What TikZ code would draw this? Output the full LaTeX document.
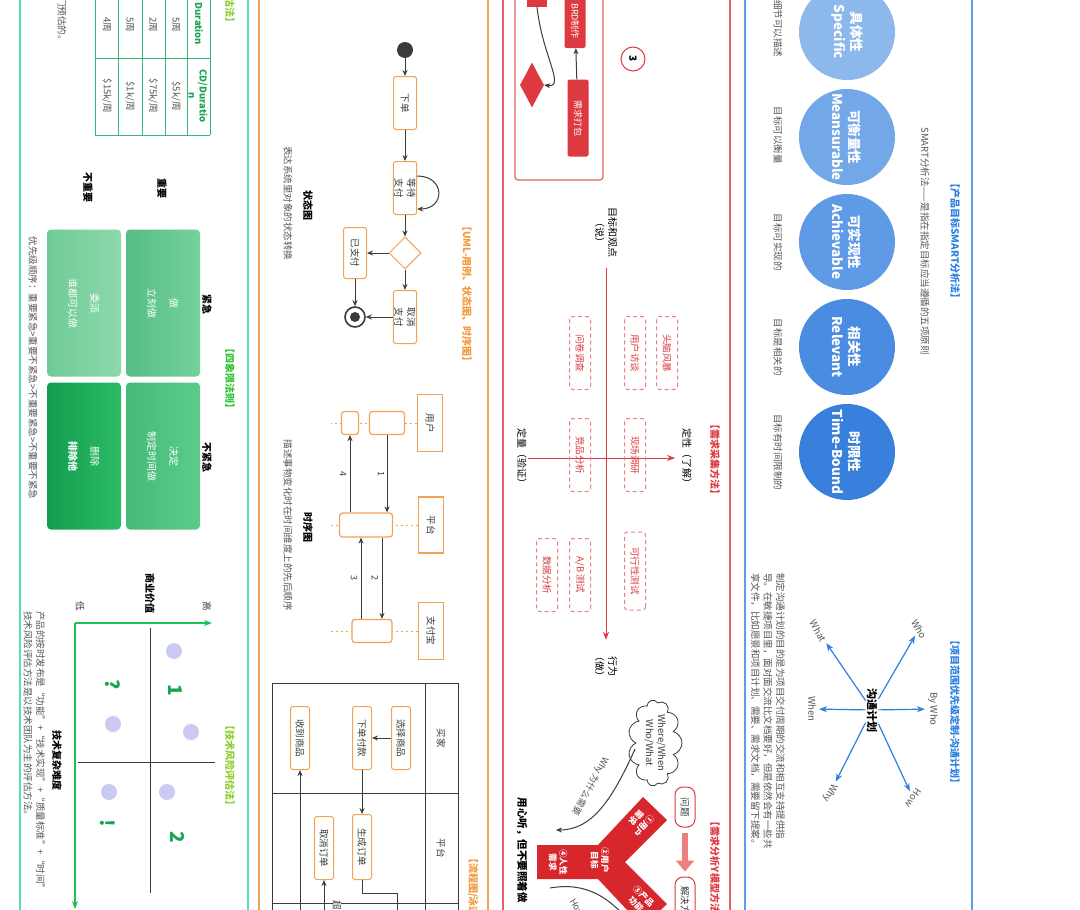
\documentclass[tikz,border=0pt]{standalone}
\usepackage{fontspec}
\setmainfont{Noto Sans CJK SC}
\usepackage{xcolor}
\definecolor{pmBleu}{HTML}{2E7FDF}
\definecolor{pmBleuCadre}{HTML}{5C9CE8}
\definecolor{pmBleuUn}{HTML}{8CB8EC}
\definecolor{pmBleuDeux}{HTML}{72A7E8}
\definecolor{pmBleuTrois}{HTML}{5E9AE5}
\definecolor{pmBleuQuatre}{HTML}{4A8CE1}
\definecolor{pmBleuCinq}{HTML}{3880DC}
\definecolor{pmRouge}{HTML}{DC3A40}
\definecolor{pmRougeCadre}{HTML}{E46262}
\definecolor{pmRougePale}{HTML}{EC8080}
\definecolor{pmRougeY}{HTML}{D7262C}
\definecolor{pmOrange}{HTML}{F2A256}
\definecolor{pmOrangeTitre}{HTML}{F29A3E}
\definecolor{pmVertCadre}{HTML}{55E0AC}
\definecolor{pmVertTitre}{HTML}{2EC435}
\definecolor{pmVertLime}{HTML}{8DCF2E}
\definecolor{pmVertTexte}{HTML}{18A552}
\definecolor{pmVertAxe}{HTML}{1FBF55}
\definecolor{pmVertTableau}{HTML}{33B874}
\definecolor{pmVertFaire}{HTML}{56BD84}
\definecolor{pmVertFaireClair}{HTML}{74D29B}
\definecolor{pmVertDeleguer}{HTML}{6FCB95}
\definecolor{pmVertDeleguerClair}{HTML}{8DD9AC}
\definecolor{pmVertDecider}{HTML}{45B978}
\definecolor{pmVertDeciderClair}{HTML}{5CCB8A}
\definecolor{pmVertSupprimer}{HTML}{129E4E}
\definecolor{pmVertSupprimerClair}{HTML}{2DBB66}
\definecolor{pmGris}{HTML}{555555}
\definecolor{pmTrait}{HTML}{3B3B3B}
\definecolor{pmLavande}{HTML}{CACAF3}
\usepackage{tikz}
\usetikzlibrary{arrows.meta, shapes.geometric, shapes.symbols}
\newcommand{\corps}[2]{\fontsize{#1}{#2}\selectfont}
\tikzset{
  %% ── Cadres ───────────────────────────────────────────────────────────
  %% One tall strip per topic; every strip runs past the top and bottom.
  cadre/.style        = {line width=1.2pt},
  cadreVert/.style    = {cadre, draw=pmVertCadre},
  cadreOrange/.style  = {cadre, draw=pmOrange},
  cadreRouge/.style   = {cadre, draw=pmRougeCadre},
  cadreBleu/.style    = {cadre, draw=pmBleuCadre},
  %%
  %% ── Texte ────────────────────────────────────────────────────────────
  %% The whole sheet is turned a quarter turn clockwise, so every text is;
  %% an extra rotate on a node adds to that quarter turn.
  texte/.style        = {rotate=-90, inner sep=1pt, align=center, text=pmGris,
                         font=\corps{9.5}{12.5}},
  legende/.style      = {texte, text=black, font=\corps{10}{13}\bfseries},
  legendeFine/.style  = {texte, text=black, font=\corps{10}{13}},
  titre/.style        = {texte, font=\corps{10}{12}\bfseries},
  titreBleu/.style    = {titre, text=pmBleu},
  titreRouge/.style   = {titre, text=pmRouge},
  titreOrange/.style  = {titre, text=pmOrangeTitre},
  titreVert/.style    = {titre, text=pmVertTitre},
  titreLime/.style    = {titre, text=pmVertLime},
  etiquetteSeq/.style = {texte, text=pmTrait, font=\corps{9}{10}},
  chiffreQuadrant/.style = {texte, text=pmVertTexte, font=\corps{19}{20}\bfseries},
  texteY/.style       = {inner sep=0pt, align=center, text=white,
                         font=\corps{8.5}{10.5}\bfseries},
  %%
  %% ── Boites ───────────────────────────────────────────────────────────
  bulleSmart/.style   = {circle, minimum size=96pt, inner sep=0pt, rotate=-90,
                         align=center, text=white, font=\corps{13.5}{17}\bfseries},
  boiteUml/.style     = {texte, draw=pmOrange, line width=1pt, rounded corners=2.5pt,
                         fill=white, text=pmTrait, minimum height=23pt},
  boiteEnTete/.style  = {texte, draw=pmOrange, line width=1.2pt, fill=white,
                         text=pmTrait, minimum height=25pt},
  boiteActivation/.style = {draw=pmOrange, line width=1.2pt, rounded corners=3pt,
                         fill=white, inner sep=0pt},
  losangeUml/.style   = {diamond, draw=pmOrange, line width=1pt, fill=white,
                         minimum width=32pt, minimum height=32pt, inner sep=0pt},
  pointDepart/.style  = {circle, fill=pmTrait, minimum size=16pt, inner sep=0pt},
  pointFin/.style     = {circle, draw=pmTrait, line width=1.6pt, fill=white,
                         minimum size=20pt, inner sep=0pt,
                         path picture={\fill[pmTrait] (path picture bounding box.center)
                         circle (5pt);}},
  boiteRougePleine/.style = {texte, fill=pmRouge, text=white, rounded corners=2pt,
                         minimum height=21pt, font=\corps{9}{11}},
  boiteTirets/.style  = {texte, draw=pmRougePale, line width=1pt,
                         dash pattern=on 4pt off 3pt, rounded corners=3pt,
                         text=pmRouge, minimum width=73pt, minimum height=21pt},
  boiteProbleme/.style = {texte, draw=pmRouge, line width=1pt, rounded corners=8pt,
                         fill=white, text=pmTrait, minimum height=20pt,
                         minimum width=40pt},
  cercleEtape/.style  = {circle, draw=pmRouge, line width=1pt, minimum size=24pt,
                         inner sep=0pt, rotate=-90, text=black,
                         font=\corps{10}{12}\bfseries},
  nuage/.style        = {cloud, cloud puffs=11, cloud ignores aspect, draw=pmTrait,
                         line width=0.8pt, rotate=-90, minimum width=86pt,
                         minimum height=54pt, inner sep=0pt, align=center,
                         text=pmTrait, font=\corps{9.5}{12}},
  caseQuadrant/.style = {texte, rounded corners=4pt, text=white, minimum width=147pt,
                         minimum height=74pt, font=\corps{10}{13}},
  %%
  %% ── Traits ───────────────────────────────────────────────────────────
  flecheNoire/.style  = {-{Stealth[length=6pt, width=5pt]}, draw=pmTrait,
                         line width=1pt},
  flecheBleue/.style  = {-{Stealth[length=8pt, width=6pt]}, draw=pmBleu,
                         line width=1.2pt},
  flecheRouge/.style  = {-{Stealth[length=8pt, width=6pt]}, draw=pmRouge,
                         line width=1pt},
  flecheVerte/.style  = {-{Stealth[length=8pt, width=6pt]}, draw=pmVertAxe,
                         line width=1.2pt},
  flecheEpaisse/.style = {-{Triangle[length=11pt, width=18pt]}, draw=pmRougePale,
                         line width=6pt},
  ligneVie/.style     = {draw=pmOrange, line width=1pt, dash pattern=on 2pt off 3pt},
  traitCouloir/.style = {draw=pmTrait, line width=1pt},
  traitTableau/.style = {draw=pmVertTableau, line width=0.8pt},
  traitCroix/.style   = {draw=pmTrait, line width=1pt},
}

\begin{document}
\begin{tikzpicture}[x=1pt, y=-1pt]

\useasboundingbox (0,0) rectangle (1080,910);
\fill[white] (0,0) rectangle (1080,910);
\clip (0,0) rectangle (1080,910);

%% strips
\draw[cadreVert]   (20,-10)  rectangle (248,920);
\draw[cadreOrange] (259,-10) rectangle (488,920);
\draw[cadreRouge]  (503,-10) rectangle (730,920);
\draw[cadreBleu]   (745,-10) rectangle (972,920);

%% SMART
\node[titreBleu] (titreSmart) at (955,241) {【产品目标SMART分析法】};
\node[texte] (sousSmart) at (925,241) {SMART分析法——是指在指定目标应当遵循的五项原则};

\node[bulleSmart, fill=pmBleuUn]     (specific)   at (847,32)  {具体性\\Specific};
\node[bulleSmart, fill=pmBleuDeux]   (measurable) at (847,137) {可衡量性\\Meansurable};
\node[bulleSmart, fill=pmBleuTrois]  (achievable) at (847,242) {可实现性\\Achievable};
\node[bulleSmart, fill=pmBleuQuatre] (relevant)   at (847,347) {相关性\\Relevant};
\node[bulleSmart, fill=pmBleuCinq]   (timeBound)  at (847,452) {时限性\\Time-Bound};

\node[texte] (descSpecific)   at (778,29)  {细节可以描述};
\node[texte] (descMeasurable) at (778,135) {目标可以衡量};
\node[texte] (descAchievable) at (778,242) {目标可实现的};
\node[texte] (descRelevant)   at (778,347) {目标是相关的};
\node[texte] (descTimeBound)  at (778,452) {目标有时间限制的};

%% communication plan
\node[titreBleu] (titrePlan) at (955,712) {【项目范围优先级定制-沟通计划】};
\node[legende, font=\corps{11}{13}\bfseries] (plan) at (872,710) {沟通计划};
\node[texte, rotate=30]   (who)   at (919,629) {Who};
\node[texte]              (byWho) at (933,709) {By Who};
\node[texte, rotate=-35]  (how)   at (913,798) {How};
\node[texte, rotate=30]   (what)  at (818,631) {What};
\node[texte]              (when)  at (812,709) {When};
\node[texte, rotate=-30]  (why)   at (830,793) {Why};

\draw[flecheBleue, shorten >=2pt] (plan) -- (who);
\draw[flecheBleue, shorten >=2pt] (plan) -- (byWho);
\draw[flecheBleue, shorten >=2pt] (plan) -- (how);
\draw[flecheBleue, shorten >=2pt] (plan) -- (what);
\draw[flecheBleue, shorten >=2pt] (plan) -- (when);
\draw[flecheBleue, shorten >=2pt] (plan) -- (why);

\node[texte, align=left] (notePlan) at (768,711)
     {制定沟通计划的目的是为项目交付周期的交流和相互支持提供指\\
      导。在敏捷项目里，面对面交流比文档要好，但是依然会有一些共\\
      享文件，比如愿景和项目计划、需要、需求文档，需要留下提案。};

%% requirement flow (top of the red strip)
\draw[cadreRouge, rounded corners=3pt] (515,-20) rectangle (603,180);
\node[boiteRougePleine, minimum width=54pt] (brd) at (575,21) {BRD制作};
\node[boiteRougePleine, minimum width=77pt] (paquet) at (578,118) {需求打包};
\node[fill=pmRouge, minimum width=20pt, minimum height=37pt, inner sep=0pt]
     (boiteHaut) at (537,-12) {};
\node[diamond, fill=pmRouge, minimum width=24pt, minimum height=45pt, inner sep=0pt]
     (losange) at (532,85) {};
\draw[flecheNoire] (paquet) -- (brd);
\draw[flecheNoire] (boiteHaut.south) .. controls (542,55) and (566,88) .. (losange.east);
\node[cercleEtape] (etape3) at (633,59) {3};

%% requirement collection
\node[titreRouge] (titreCollecte) at (715,459) {【需求采集方法】};
\node[legendeFine] (qualitatif)  at (687,458) {定性（了解）};
\node[legendeFine] (quantitatif) at (522,458) {定量（验证）};
\node[legendeFine] (dire)  at (606,232) {目标和观点\\（说）};
\node[legendeFine] (faire) at (606,666) {行为\\（做）};
\draw[flecheRouge, shorten >=6pt] (quantitatif) -- (qualitatif);
\draw[flecheRouge, shorten <=10pt, shorten >=10pt] (dire) -- (faire);

\node[boiteTirets] (brainstorm)  at (667,353) {头脑风暴};
\node[boiteTirets] (interview)   at (635,353) {用户访谈};
\node[boiteTirets] (sondage)     at (580,353) {问卷调查};
\node[boiteTirets] (terrain)     at (635,455) {现场调研};
\node[boiteTirets] (concurrence) at (580,455) {竞品分析};
\node[boiteTirets, minimum width=78pt] (faisabilite) at (635,571) {可行性测试};
\node[boiteTirets] (testAB)      at (580,575) {A/B 测试};
\node[boiteTirets] (donnees)     at (547,575) {数据分析};

%% Y model
\node[titreRouge] (titreY) at (715,870) {【需求分析Y模型方法】};
\node[boiteProbleme] (probleme) at (685,807) {问题};
\node[boiteProbleme, minimum width=56pt] (solution) at (685,905) {解决方案};
\draw[flecheEpaisse, shorten <=5pt, shorten >=5pt] (probleme) -- (solution);

\node[nuage] (nuage) at (655,743) {Where/When\\Who/What};

\fill[pmRougeY] (537,845) -- (598,845) -- (643,797) -- (667,820) -- (625,862)
     -- (667,904) -- (643,927) -- (598,879) -- (537,879) -- cycle;
\node[texteY, rotate=-135] (besoinUser) at (640,822) {①用户\\需求};
\node[texteY, rotate=-90]  (butUser)    at (600,860) {②用户\\目标};
\node[texteY, rotate=-45]  (fonction)   at (640,900) {③产品\\功能};
\node[texteY, rotate=-90]  (nature)     at (558,862) {④人性\\需求};

\coordinate (finWhy) at (556,830);
\draw[flecheNoire] ([yshift=-6pt]nuage.south) .. controls (612,800) and (592,830) .. (finWhy);
\node[texte, rotate=-29, font=\corps{9}{11}] (labelWhy) at (590,786) {Why 为什么需要};

\coordinate (debutHow) at (550,888);
\coordinate (finHow) at (640,935);
\draw[flecheNoire] (debutHow) .. controls (585,882) and (610,895) .. (finHow);
\node[texte, rotate=30, font=\corps{9}{11}] (labelHow) at (577,908) {How};

\node[legende, font=\corps{10.5}{13}\bfseries] (ecoute) at (522,850) {用心听，但不要照着做};

%% UML: state diagram
\node[titreOrange] (titreUml) at (467,294) {【UML-用例、状态图、时序图】};
\node[pointDepart] (depart) at (405,50) {};
\node[boiteUml, minimum width=53pt] (commande) at (405,103) {下单};
\node[boiteUml, minimum width=53pt] (attente)  at (405,188) {等待\\支付};
\node[losangeUml] (choix) at (405,253) {};
\node[boiteUml, minimum width=51pt] (paye)     at (355,253) {已支付};
\node[boiteUml, minimum width=53pt] (annule)   at (405,317) {取消\\支付};
\node[pointFin] (fin) at (355,317) {};

\draw[flecheNoire] (depart) -- (commande);
\draw[flecheNoire] (commande) -- (attente);
\draw[flecheNoire] (attente) -- (choix);
\draw[flecheNoire] (choix) -- (paye);
\draw[flecheNoire] (choix) -- (annule);
\draw[flecheNoire] (annule) -- (fin);
\draw[flecheNoire] (paye) -- (fin);
\draw[flecheNoire] ([yshift=12pt]attente.north) to[out=0, in=0, looseness=2.2]
     ([yshift=-21pt]attente.north);

\node[legende] (titreEtat) at (308,205) {状态图};
\node[texte] (descEtat) at (288,203) {表达系统里对象的状态转换};

%% UML: sequence diagram
\node[boiteEnTete, minimum width=57pt] (utilisateur) at (430,423) {用户};
\node[boiteEnTete, minimum width=56pt] (plateforme)  at (431,525) {平台};
\node[boiteEnTete, minimum width=57pt] (alipay)      at (431,631) {支付宝};

\coordinate (vieUtilisateur) at (331,423);
\coordinate (viePlateforme)  at (331,525);
\coordinate (vieAlipay)      at (331,631);
\draw[ligneVie] (utilisateur) -- (vieUtilisateur);
\draw[ligneVie] (plateforme) -- (viePlateforme);
\draw[ligneVie] (alipay) -- (vieAlipay);

\node[boiteActivation, minimum width=35pt, minimum height=23pt] (actUser)   at (387,423) {};
\node[boiteActivation, minimum width=17pt, minimum height=23pt] (retourUser) at (350,423) {};
\node[boiteActivation, minimum width=53pt, minimum height=24pt] (actPlat)   at (366,525) {};
\node[boiteActivation, minimum width=40pt, minimum height=23pt] (actPay)    at (372,631) {};

\coordinate (msgDeux)  at ([xshift=10pt]actPay.north);
\coordinate (msgTrois) at ([xshift=-11pt]actPay.north);
\draw[flecheNoire] (actUser.south) -- (actUser.south |- actPlat.north);
\draw[flecheNoire] (retourUser.south |- actPlat.north) -- (retourUser.south);
\draw[flecheNoire] (msgDeux |- actPlat.south) -- (msgDeux);
\draw[flecheNoire] (msgTrois) -- (msgTrois |- actPlat.south);
\node[etiquetteSeq] (labelUn)     at (381,474) {1};
\node[etiquetteSeq] (labelQuatre) at (343,474) {4};
\node[etiquetteSeq] (labelDeux)   at (375,578) {2};
\node[etiquetteSeq] (labelTrois)  at (354,578) {3};

\node[legende] (titreSeq) at (308,527) {时序图};
\node[texte] (descSeq) at (288,525) {描述事物变化时在时间维度上的先后顺序};

%% swimlane flow
\draw[traitCouloir] (272,920) -- (272,683) -- (458,683) -- (458,920);
\draw[traitCouloir] (425,683) -- (425,920);
\draw[traitCouloir] (272,793) -- (458,793);
\draw[traitCouloir] (272,903) -- (458,903);
\node[texte, text=pmTrait] (voieAcheteur)   at (441,738) {买家};
\node[texte, text=pmTrait] (voiePlateforme) at (441,848) {平台};

\node[boiteUml, minimum height=19pt, minimum width=63pt] (choisir)  at (401,738) {选择商品};
\node[boiteUml, minimum height=19pt, minimum width=63pt] (payer)    at (362,738) {下单付款};
\node[boiteUml, minimum height=19pt, minimum width=63pt] (recevoir) at (300,738) {收到商品};
\node[boiteUml, minimum height=19pt, minimum width=65pt] (generer)  at (362,847) {生成订单};
\node[boiteUml, minimum height=19pt, minimum width=63pt] (annulerCmd) at (324,848) {取消订单};

\draw[flecheNoire] (choisir) -- (payer);
\draw[flecheNoire] (payer) -- (generer);
\coordinate (versLivraison) at (397,925);
\draw[traitCouloir] (generer.east) -- ++(0,13) -| (versLivraison);
\coordinate (depuisDelai) at (324,925);
\draw[flecheNoire] (depuisDelai) -- (annulerCmd);
\coordinate (depuisLivraison) at (300,925);
\draw[flecheNoire] (depuisLivraison) -- (recevoir);
\node[texte, text=pmTrait, fill=white, inner sep=0pt] (labelDelai) at (337,910) {超时};

\node[titreOrange] (titreFlux) at (473,895) {【流程图/泳道图】};

%% cost of delay table
\node[titreLime] (titreCout) at (230,-17) {【延迟成本评估法】};
\node[texte] (noteCout) at (62,21) {门预估的。};
\draw[traitTableau] (95,-10) -- (95,135);
\draw[traitTableau] (118,-10) -- (118,135);
\draw[traitTableau] (142,-10) -- (142,135);
\draw[traitTableau] (165,-10) -- (165,135);
\draw[traitTableau] (187,-10) -- (187,135);
\draw[traitTableau] (210,-10) -- (210,135);
\draw[traitTableau] (95,58) -- (210,58);
\draw[traitTableau] (95,135) -- (210,135);
\node[texte, text=pmVertTexte, font=\corps{9.5}{11}\bfseries] (enteteDuree) at (199,24) {Duration};
\node[texte, text=pmVertTexte, font=\corps{9.5}{11}\bfseries] (enteteCd) at (198,96) {CD/Duratio\\n};
\node[texte] (dureeA) at (176,25) {5周};
\node[texte] (coutA)  at (176,96) {\$5k/周};
\node[texte] (dureeB) at (153,25) {2周};
\node[texte] (coutB)  at (153,96) {\$75k/周};
\node[texte] (dureeC) at (130,25) {5周};
\node[texte] (coutC)  at (130,96) {\$1k/周};
\node[texte] (dureeD) at (107,25) {4周};
\node[texte] (coutD)  at (107,96) {\$15k/周};

%% four quadrants
\node[titreVert] (titreQuadrant) at (230,378) {【四象限法则】};
\node[legende] (important)    at (162,188) {重要};
\node[legende] (pasImportant) at (88,187)  {不重要};
\node[legende] (urgent)       at (207,304) {紧急};
\node[legende] (pasUrgent)    at (207,457) {不紧急};

\node[caseQuadrant, left color=pmVertFaire, right color=pmVertFaireClair]
     (faireVite) at (163,303) {做\\[9pt]立刻做};
\node[caseQuadrant, left color=pmVertDeleguer, right color=pmVertDeleguerClair]
     (deleguer) at (84,303) {委派\\[9pt]谁都可以做};
\node[caseQuadrant, left color=pmVertDecider, right color=pmVertDeciderClair]
     (decider) at (163,456) {决定\\[9pt]制定时间做};
\node[caseQuadrant, left color=pmVertSupprimer, right color=pmVertSupprimerClair]
     (supprimer) at (84,456) {删除\\[9pt]\textbf{排除他}};

\node[texte] (ordre) at (33,368) {优先级顺序：重要紧急>重要不紧急>不重要紧急>不重要不紧急};

%% technical risk
\node[titreLime] (titreRisque) at (230,765) {【技术风险评估法】};
\coordinate (origine) at (75,623);
\coordinate (axeValeur) at (212,623);
\coordinate (axeDifficulte) at (75,909);
\draw[flecheVerte] (origine) -- (axeValeur);
\draw[flecheVerte] (origine) -- (axeDifficulte);
\node[texte, text=pmTrait] (haut) at (207,606) {高};
\node[texte, text=pmTrait] (bas)  at (80,606)  {低};
\node[legende] (valeur) at (150,593) {商业价值};
\node[legende] (difficulte) at (57,760) {技术复杂难度};

\draw[traitCroix] (78,762) -- (215,762);
\draw[traitCroix] (150,628) -- (150,893);
\fill[pmLavande] (174,651) circle (8);
\fill[pmLavande] (191,732) circle (8);
\fill[pmLavande] (113,724) circle (8);
\fill[pmLavande] (167,792) circle (8);
\fill[pmLavande] (109,792) circle (8);
\node[chiffreQuadrant] (quadUn)    at (175,690) {1};
\node[chiffreQuadrant] (quadDeux)  at (178,837) {2};
\node[chiffreQuadrant] (quadDoute) at (113,685) {?};
\node[chiffreQuadrant] (quadAlerte) at (108,823) {!};

\node[texte, align=left, anchor=north west] (noteRisque) at (46,610)
     {产品的按时发布是“功能”+“技术实现”+“质量标准”+“时间”\\
      技术风险评估方法是以技术团队为主的评估方法。};

\end{tikzpicture}
\end{document}
